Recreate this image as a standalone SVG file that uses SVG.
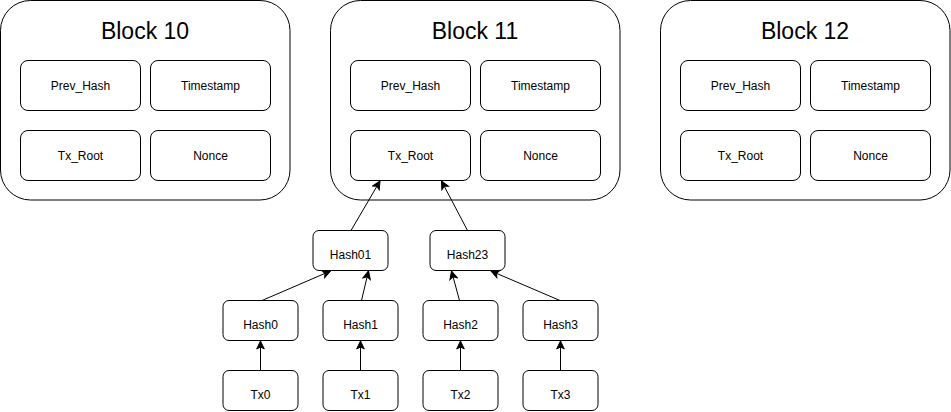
<svg xmlns="http://www.w3.org/2000/svg" width="951" height="412" viewBox="0 0 951 412">
<style>
.blk{fill:#fff;stroke:#000;stroke-width:1}
.box{fill:#fff;stroke:#000;stroke-width:1}
.t{font-family:"Liberation Sans",Arial,sans-serif;font-size:12px;text-anchor:middle;fill:#000}
.title{font-family:"Liberation Sans",Arial,sans-serif;font-size:23px;text-anchor:middle;fill:#000}
.e{stroke:#000;stroke-width:1;fill:none;marker-end:url(#arr)}
</style>
<defs>
<marker id="arr" markerUnits="userSpaceOnUse" markerWidth="10" markerHeight="10" viewBox="0 0 10 10" refX="9" refY="5" orient="auto">
<path d="M1,1.2 L9,5 L1,8.8 L3,5 Z" fill="#000" stroke="#000" stroke-width="1"/>
</marker>
</defs>
<rect width="951" height="412" fill="#fff"/>

<g id="block10">
<rect class="blk" x="0.5" y="0.5" width="289.5" height="199.5" rx="30" ry="30"/>
<text class="title" x="145" y="39">Block 10</text>
</g>
<g id="b10-prev"><rect class="box" x="20.5" y="60.5" width="120" height="50" rx="7.5"/><text class="t" x="80.5" y="89.5">Prev_Hash</text></g>
<g id="b10-ts"><rect class="box" x="150.5" y="60.5" width="120" height="50" rx="7.5"/><text class="t" x="210.5" y="89.5">Timestamp</text></g>
<g id="b10-tx"><rect class="box" x="20.5" y="130.5" width="120" height="50" rx="7.5"/><text class="t" x="80.5" y="159.5">Tx_Root</text></g>
<g id="b10-nonce"><rect class="box" x="150.5" y="130.5" width="120" height="50" rx="7.5"/><text class="t" x="210.5" y="159.5">Nonce</text></g>

<g id="block11">
<rect class="blk" x="330.5" y="0.5" width="289.5" height="199.5" rx="30" ry="30"/>
<text class="title" x="475" y="39">Block 11</text>
</g>
<g id="b11-prev"><rect class="box" x="350.5" y="60.5" width="120" height="50" rx="7.5"/><text class="t" x="410.5" y="89.5">Prev_Hash</text></g>
<g id="b11-ts"><rect class="box" x="480.5" y="60.5" width="120" height="50" rx="7.5"/><text class="t" x="540.5" y="89.5">Timestamp</text></g>
<g id="b11-tx"><rect class="box" x="350.5" y="130.5" width="120" height="50" rx="7.5"/><text class="t" x="410.5" y="159.5">Tx_Root</text></g>
<g id="b11-nonce"><rect class="box" x="480.5" y="130.5" width="120" height="50" rx="7.5"/><text class="t" x="540.5" y="159.5">Nonce</text></g>

<g id="block12">
<rect class="blk" x="660.5" y="0.5" width="289.5" height="199.5" rx="30" ry="30"/>
<text class="title" x="805" y="39">Block 12</text>
</g>
<g id="b12-prev"><rect class="box" x="680.5" y="60.5" width="120" height="50" rx="7.5"/><text class="t" x="740.5" y="89.5">Prev_Hash</text></g>
<g id="b12-ts"><rect class="box" x="810.5" y="60.5" width="120" height="50" rx="7.5"/><text class="t" x="870.5" y="89.5">Timestamp</text></g>
<g id="b12-tx"><rect class="box" x="680.5" y="130.5" width="120" height="50" rx="7.5"/><text class="t" x="740.5" y="159.5">Tx_Root</text></g>
<g id="b12-nonce"><rect class="box" x="810.5" y="130.5" width="120" height="50" rx="7.5"/><text class="t" x="870.5" y="159.5">Nonce</text></g>

<g id="hash01"><rect class="box" x="313" y="230.5" width="75" height="40" rx="6"/><text class="t" x="350.5" y="259">Hash01</text></g>
<g id="hash23"><rect class="box" x="430" y="230.5" width="75" height="40" rx="6"/><text class="t" x="467.5" y="259">Hash23</text></g>

<g id="hash0"><rect class="box" x="223" y="300.5" width="75" height="40" rx="6"/><text class="t" x="260.5" y="329">Hash0</text></g>
<g id="hash1"><rect class="box" x="323" y="300.5" width="75" height="40" rx="6"/><text class="t" x="360.5" y="329">Hash1</text></g>
<g id="hash2"><rect class="box" x="423" y="300.5" width="75" height="40" rx="6"/><text class="t" x="460.5" y="329">Hash2</text></g>
<g id="hash3"><rect class="box" x="523" y="300.5" width="75" height="40" rx="6"/><text class="t" x="560.5" y="329">Hash3</text></g>

<g id="tx0"><rect class="box" x="223" y="370.5" width="75" height="40" rx="6"/><text class="t" x="260.5" y="398.5">Tx0</text></g>
<g id="tx1"><rect class="box" x="323" y="370.5" width="75" height="40" rx="6"/><text class="t" x="360.5" y="398.5">Tx1</text></g>
<g id="tx2"><rect class="box" x="423" y="370.5" width="75" height="40" rx="6"/><text class="t" x="460.5" y="398.5">Tx2</text></g>
<g id="tx3"><rect class="box" x="523" y="370.5" width="75" height="40" rx="6"/><text class="t" x="560.5" y="398.5">Tx3</text></g>

<g id="connectors">
<line class="e" x1="260.5" y1="370.5" x2="260.5" y2="341"/>
<line class="e" x1="360.5" y1="370.5" x2="360.5" y2="341"/>
<line class="e" x1="460.5" y1="370.5" x2="460.5" y2="341"/>
<line class="e" x1="560.5" y1="370.5" x2="560.5" y2="341"/>
<line class="e" x1="262" y1="300.5" x2="330.5" y2="271"/>
<line class="e" x1="361.5" y1="300.5" x2="368.5" y2="271"/>
<line class="e" x1="459.5" y1="300.5" x2="451.5" y2="271"/>
<line class="e" x1="560" y1="300.5" x2="491" y2="271"/>
<line class="e" x1="351" y1="230.5" x2="380" y2="181"/>
<line class="e" x1="467.5" y1="230.5" x2="441.5" y2="181"/>
</g>
</svg>
